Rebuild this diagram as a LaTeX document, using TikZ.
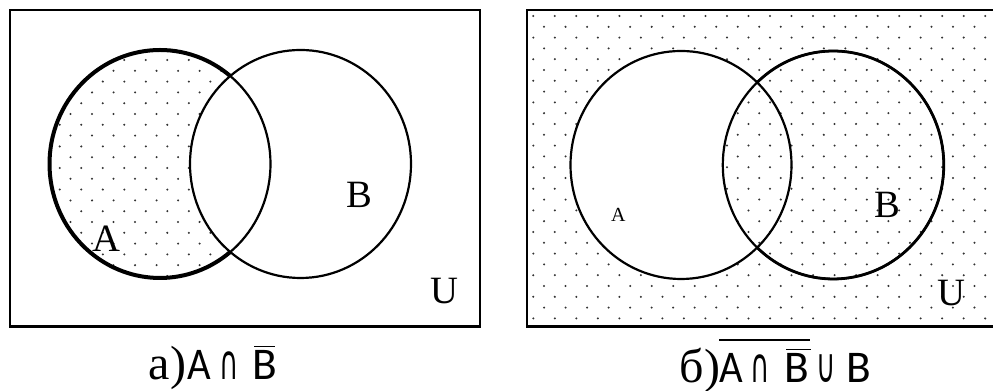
\documentclass[tikz,border=0pt]{standalone}
\usepackage{fontspec}
\usepackage{graphicx}
\setmainfont{Liberation Serif}
\newfontfamily\capsansfont{Carlito}
\newfontfamily\symbfont{DejaVu Sans}
\begin{document}
\begin{tikzpicture}[x=0.75pt,y=0.75pt]
\tikzset{
  frame/.style={line width=1.9pt},
  setline/.style={line width=1.65pt},
  thickset/.style={line width=3pt},
  midthick/.style={line width=2.1pt},
  dotfill/.style={fill=black!80},
  biglbl/.style={font=\fontsize{29}{31}\selectfont, inner sep=0pt},
  smalllbl/.style={font=\fontsize{15}{17}\selectfont, inner sep=0pt},
  capserif/.style={font=\fontsize{36}{38}\selectfont, inner sep=0pt, anchor=base},
  capsans/.style={font=\capsansfont\fontsize{34}{36}\selectfont, inner sep=0pt, anchor=base},
  capsym/.style={font=\symbfont\fontsize{36}{38}\selectfont, inner sep=0pt, anchor=base},
  barline/.style={line width=1.1pt}
}
\useasboundingbox (0,0) rectangle (993,391);

% ---------- panel a ----------
\begin{scope}
  \clip (160,227) ellipse [x radius=82.875pt, y radius=85.5pt];
  \foreach \i in {0,...,12} \foreach \j in {0,...,13} {
    \fill[dotfill] (16.7+\i*21.52, 374.2-\j*21.6) circle[radius=0.85pt];
    \fill[dotfill] (27.46+\i*21.52, 363.4-\j*21.6) circle[radius=0.85pt];
  }
  \fill[white] (300.5,227) ellipse [x radius=82.875pt, y radius=85.5pt];
\end{scope}
\draw[frame] (10,381) rectangle (480,64.5);
\draw[setline] (160,227) ellipse [x radius=82.875pt, y radius=85.5pt];
\draw[setline] (300.5,227) ellipse [x radius=82.875pt, y radius=85.5pt];
\draw[thickset] (160,227) ++(50.5:82.875pt and 85.5pt)
  arc[start angle=50.5, end angle=309.5, x radius=82.875pt, y radius=85.5pt];

\node[biglbl] (labA1) at (106.7,152) {A};
\node[biglbl] (labB1) at (359.5,195.7) {B};
\node[biglbl] (labU1) at (444.5,100) {U};

% ---------- panel b ----------
\begin{scope}
  \clip (527,381) rectangle (1000,64.5);
  \foreach \i in {-1,...,22} \foreach \j in {0,...,14} {
    \fill[dotfill] (533.3+\i*21.52, 375-\j*21.6) circle[radius=0.85pt];
    \fill[dotfill] (544.06+\i*21.52, 364.2-\j*21.6) circle[radius=0.85pt];
  }
  \fill[white] (681,226) ellipse [x radius=82.875pt, y radius=85.5pt];
\end{scope}
\begin{scope}
  \clip (681,226) ellipse [x radius=82.875pt, y radius=85.5pt];
  \clip (833.3,226) ellipse [x radius=82.875pt, y radius=85.5pt];
  \foreach \i in {7,...,12} \foreach \j in {0,...,14} {
    \fill[dotfill] (533.3+\i*21.52, 375-\j*21.6) circle[radius=0.85pt];
    \fill[dotfill] (544.06+\i*21.52, 364.2-\j*21.6) circle[radius=0.85pt];
  }
\end{scope}
\draw[frame] (527,381) rectangle (1000,64.5);
\draw[setline] (681,226) ellipse [x radius=82.875pt, y radius=85.5pt];
\draw[setline] (833.3,226) ellipse [x radius=82.875pt, y radius=85.5pt];
\draw[midthick] (833.3,226) ++(133.6:82.875pt and 85.5pt)
  arc[start angle=133.6, end angle=-133.6, x radius=82.875pt, y radius=85.5pt];

\node[smalllbl] (labA2) at (618.3,176.5) {A};
\node[biglbl] (labB2) at (887,186) {B};
\node[biglbl] (labU2) at (951.3,97.7) {U};

% ---------- captions ----------
\node[capserif] (capa) at (167.5,11) {а)};
\node[capsans] (capaA) at (199,11) {\scalebox{0.9}[1]{A}};
\node[capsym] (capaCap) at (229,11) {\scalebox{0.55}[1]{∩}};
\node[capsans] (capaB) at (264.5,11) {B};
\draw[barline] (254,44.5) -- (275,44.5);

\node[capserif] (capb) at (700,8) {б)};
\node[capsans] (capbA) at (731.5,8) {\scalebox{0.9}[1]{A}};
\node[capsym] (capbCap) at (760.5,8) {\scalebox{0.55}[1]{∩}};
\node[capsans] (capbB) at (796.7,8) {B};
\node[capsym] (capbCup) at (826.5,8) {\scalebox{0.55}[1]{∪}};
\node[capsans] (capbB2) at (859,8) {B};
\draw[barline] (786,41.5) -- (811,41.5);
\draw[barline] (719,51) -- (810,51);
\end{tikzpicture}
\end{document}
